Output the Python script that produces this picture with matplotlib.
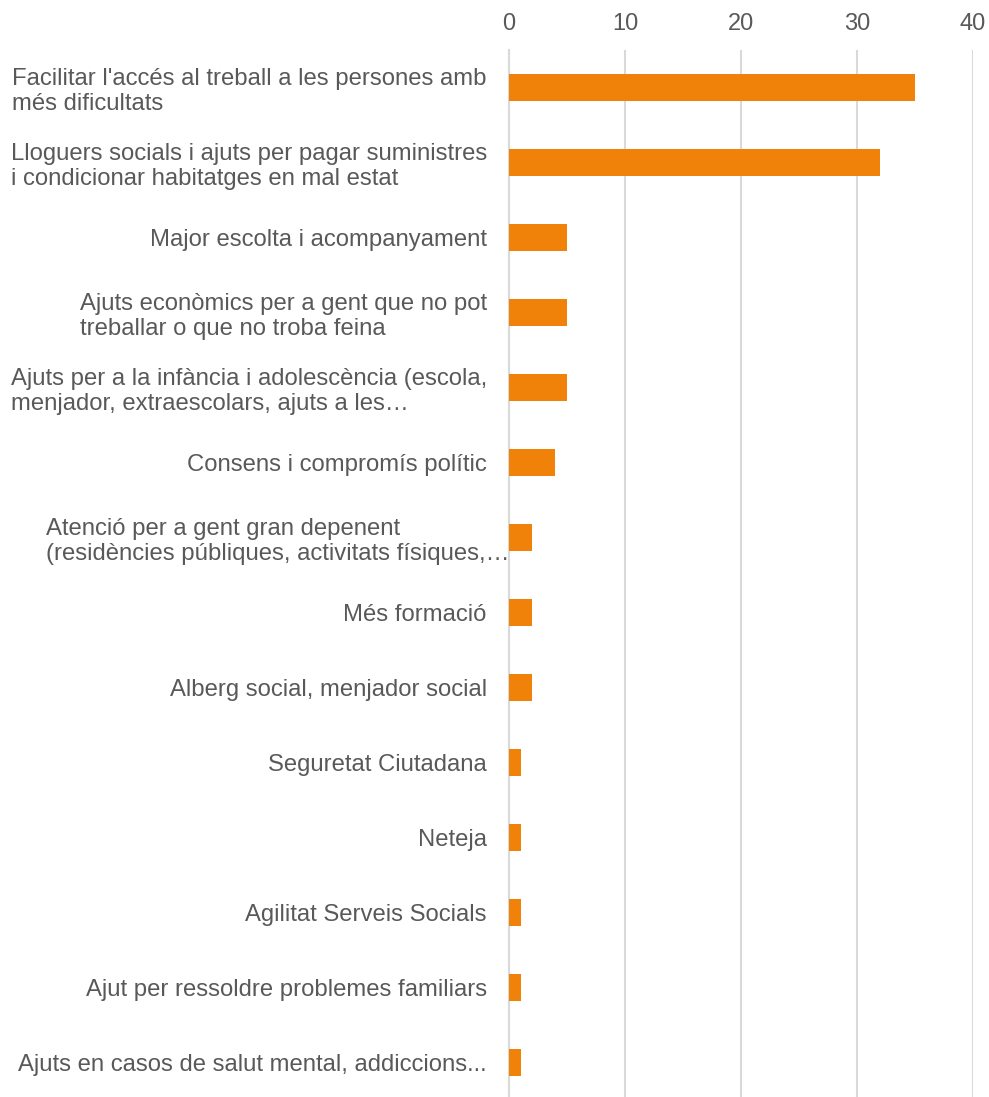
import matplotlib
matplotlib.use("Agg")
import matplotlib.pyplot as plt
from matplotlib.transforms import ScaledTranslation

categories = [
    "Facilitar l'accés al treball a les persones amb\nmés dificultats",
    "Lloguers socials i ajuts per pagar suministres\ni condicionar habitatges en mal estat",
    "Major escolta i acompanyament",
    "Ajuts econòmics per a gent que no pot\ntreballar o que no troba feina",
    "Ajuts per a la infància i adolescència (escola,\nmenjador, extraescolars, ajuts a les…",
    "Consens i compromís polític",
    "Atenció per a gent gran depenent\n(residències públiques, activitats físiques,…",
    "Més formació",
    "Alberg social, menjador social",
    "Seguretat Ciutadana",
    "Neteja",
    "Agilitat Serveis Socials",
    "Ajut per ressoldre problemes familiars",
    "Ajuts en casos de salut mental, addiccions...",
]
values = [35, 32, 5, 5, 5, 4, 2, 2, 2, 1, 1, 1, 1, 1]
xticks = [0, 10, 20, 30, 40]

plt.rcParams['font.family'] = ['Liberation Sans', 'DejaVu Sans']

W, H = 989, 1097
fig = plt.figure(figsize=(W / 100, H / 100), dpi=100)
left, right = 509 / W, 973 / W
top_px, bot_px = 50, 1100
ax = fig.add_axes([left, 1 - bot_px / H, right - left, (bot_px - top_px) / H])

ypos = list(range(len(categories)))
ax.barh(ypos, values, height=0.36, color='#F0820A', zorder=3)
ax.set_ylim(len(categories) - 0.5, -0.5)
ax.set_xlim(0, 40)

ax.set_xticks(xticks)
ax.set_xticklabels([str(t) for t in xticks])
ax.xaxis.tick_top()
ax.tick_params(axis='x', length=0, pad=10.5, labelsize=17, colors='#595959')
ax.set_yticks(ypos)
ax.set_yticklabels(categories)
ax.tick_params(axis='y', length=0, pad=16, labelsize=17.2, colors='#595959')
for lab in ax.get_yticklabels():
    lab.set_multialignment('left')
    lab.set_linespacing(1.18)
    if lab.get_text().startswith("Atenció"):
        lab.set_transform(lab.get_transform() + ScaledTranslation(23 / 100, 0, fig.dpi_scale_trans))

ax.grid(axis='x', color='#D9D9D9', linewidth=1.5, zorder=0)
ax.grid(axis='y', visible=False)
for s in ['top', 'right', 'bottom']:
    ax.spines[s].set_visible(False)
ax.spines['left'].set_color('#D9D9D9')
ax.spines['left'].set_linewidth(1.5)
ax.set_facecolor('white')

fig.savefig('out.png', dpi=100, facecolor='white')
